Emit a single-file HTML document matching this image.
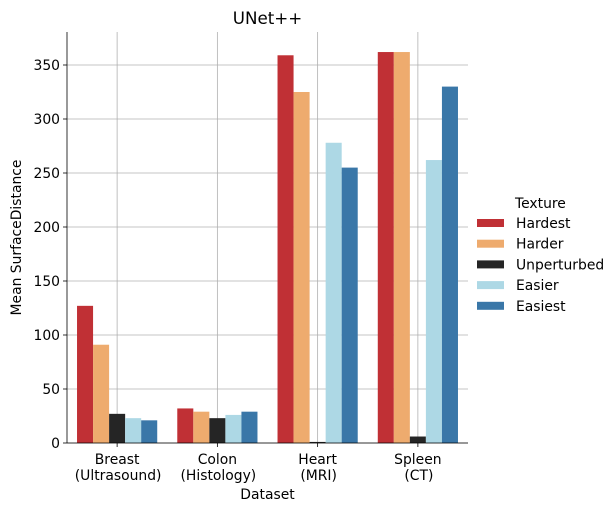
<!DOCTYPE html>
<html><head><meta charset="utf-8"><style>
body{margin:0;background:#fff;font-family:"DejaVu Sans",sans-serif}
</style></head><body>
<svg id="chart" width="616" height="512" xmlns="http://www.w3.org/2000/svg" font-family="DejaVu Sans, sans-serif"></svg>
<script>
const categories = ["Breast\n(Ultrasound)","Colon\n(Histology)","Heart\n(MRI)","Spleen\n(CT)"];
const seriesNames = ["Hardest","Harder","Unperturbed","Easier","Easiest"];
const hardest = [127,32,359,362];
const harder = [91,29,325,362];
const unperturbed = [27,23,1,6];
const easier = [23,26,278,262];
const easiest = [21,29,255,330];
const yTicks = [0,50,100,150,200,250,300,350];
const colors = ["#c03035","#eeab6e","#252525","#add8e5","#3a77a8"];
const series = [hardest,harder,unperturbed,easier,easiest];

const NS="http://www.w3.org/2000/svg";
const svg=document.getElementById('chart');
const L=67,R=468,T=32,B=443;
const FS=13.9;
const y=v=>B-v*(378/350);
const xc=i=>L+(R-L)/categories.length*(i+0.5);
const bw=(R-L)/categories.length*0.8/series.length;
function mk(tag,attrs,parent){const e=document.createElementNS(NS,tag);for(const k in attrs)e.setAttribute(k,attrs[k]);(parent||svg).appendChild(e);return e;}

yTicks.forEach(t=>{
  const g=mk('line',{x1:L,x2:R,y1:y(t),y2:y(t),stroke:'#b0b0b0','stroke-width':0.8});
  
  
  const tk=mk('line',{x1:L-4,x2:L,y1:y(t),y2:y(t),stroke:'#000','stroke-width':0.8});
  
  
  const tx=mk('text',{x:L-7,y:y(t)+5,'text-anchor':'end','font-size':FS,fill:'#000'});
  tx.textContent=t;
  
  
});
categories.forEach((c,i)=>{
  const g=mk('line',{x1:xc(i),x2:xc(i),y1:T,y2:B,stroke:'#b0b0b0','stroke-width':0.8});
  
  
});
series.forEach((s,j)=>{
  s.forEach((v,i)=>{
    const x=xc(i)-bw*series.length/2+bw*j;
    const r=mk('rect',{x:x,y:y(v),width:bw,height:B-y(v),fill:colors[j]});
    
    
  });
});
const ax=mk('line',{x1:L,x2:L,y1:T,y2:B,stroke:'#000','stroke-width':0.8});


const bx=mk('line',{x1:L,x2:R,y1:B,y2:B,stroke:'#000','stroke-width':0.8});


categories.forEach((c,i)=>{
  const tk=mk('line',{x1:xc(i),x2:xc(i),y1:B,y2:B+4,stroke:'#000','stroke-width':0.8});
  
  
  const lines=c.split('\n');
  lines.forEach((ln,k)=>{
    const tx=mk('text',{x:xc(i)+(k?1:0),y:B+21+k*16,'text-anchor':'middle','font-size':FS,fill:'#000'});
    tx.textContent=ln;
    
    
  });
});
const xt=mk('text',{x:(L+R)/2,y:499,'text-anchor':'middle','font-size':FS});
xt.textContent='Dataset';


const yt=mk('text',{x:0,y:0,'text-anchor':'middle','font-size':FS,transform:`translate(21,${(T+B)/2}) rotate(-90)`});
yt.textContent='Mean SurfaceDistance';


const tt=mk('text',{x:(L+R)/2,y:24,'text-anchor':'middle','font-size':16.7});
tt.textContent='UNet++';


const lt=mk('text',{x:515,y:208,'font-size':FS});
lt.textContent='Texture';


seriesNames.forEach((n,j)=>{
  const yy=223+j*20.7;
  const r=mk('rect',{x:477,y:yy-4,width:27,height:8,fill:colors[j]});
  
  
  const tx=mk('text',{x:516,y:yy+5,'font-size':FS});
  tx.textContent=n;
  
  
});
</script>
</body></html>
